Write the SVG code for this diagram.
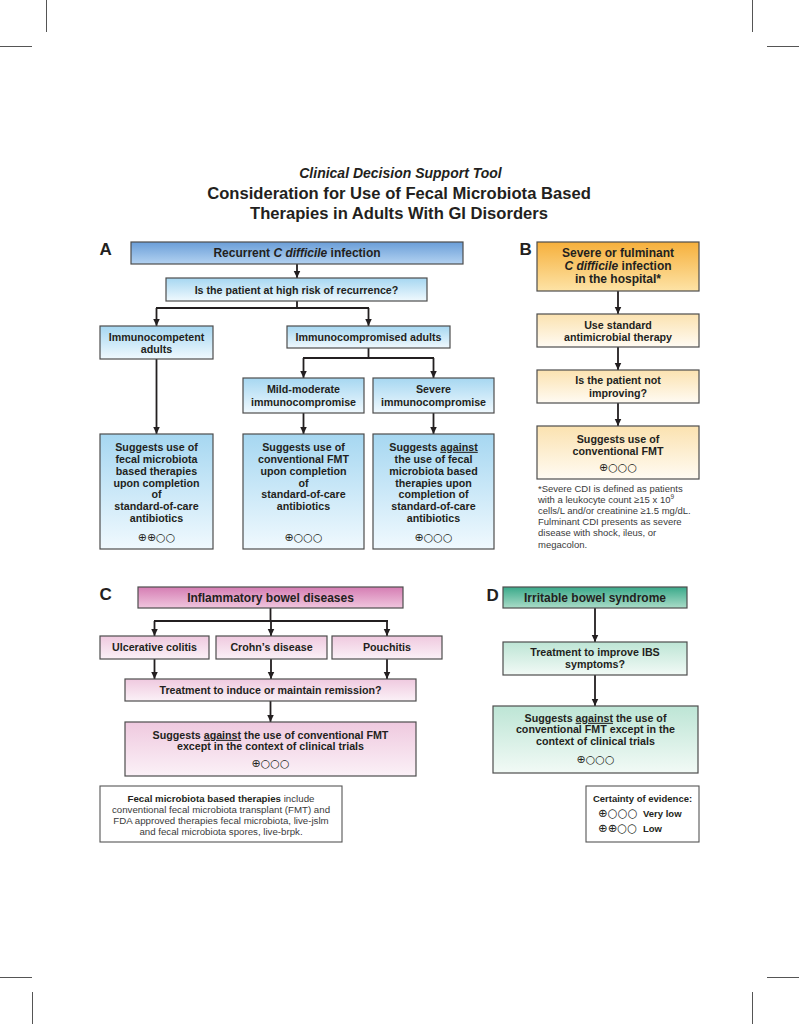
<svg xmlns="http://www.w3.org/2000/svg" width="799" height="1024" viewBox="0 0 799 1024">
<defs>
<style>
.t{font-family:"Liberation Sans",Arial,Helvetica,sans-serif;font-weight:bold;font-size:10.7px;fill:#231f20;text-anchor:middle}
.h{font-size:12px}
.lbl{font-family:"Liberation Sans",Arial,sans-serif;font-weight:bold;font-size:17px;fill:#231f20}
.sym{font-family:"DejaVu Sans",sans-serif;font-weight:normal;font-size:11px;fill:#231f20}
.note{font-family:"Liberation Sans",Arial,sans-serif;font-size:9.5px;fill:#3a3a3a}
.box{stroke:#4d4d4d;stroke-width:1.2}
.conn path{stroke:#231f20;stroke-width:1.8;fill:none}
.arr{marker-end:url(#ah)}
.crop line{stroke:#555;stroke-width:1}
</style>
<marker id="ah" markerUnits="userSpaceOnUse" markerWidth="8" markerHeight="8" refX="7.5" refY="4" orient="auto">
<path d="M0,0.5 L7.5,4 L0,7.5 z" fill="#231f20"/>
</marker>
<linearGradient id="gAh" x1="0" y1="0" x2="0" y2="1"><stop offset="0" stop-color="#6a9ed8"/><stop offset="1" stop-color="#b3d2f1"/></linearGradient>
<linearGradient id="gA" x1="0" y1="0" x2="0" y2="1"><stop offset="0" stop-color="#a6d7f1"/><stop offset="1" stop-color="#f0f9fe"/></linearGradient>
<linearGradient id="gBh" x1="0" y1="0" x2="0" y2="1"><stop offset="0" stop-color="#f6b03c"/><stop offset="1" stop-color="#fde3a6"/></linearGradient>
<linearGradient id="gB" x1="0" y1="0" x2="0" y2="1"><stop offset="0" stop-color="#fbe2b0"/><stop offset="1" stop-color="#fffbf3"/></linearGradient>
<linearGradient id="gCh" x1="0" y1="0" x2="0" y2="1"><stop offset="0" stop-color="#d57db3"/><stop offset="1" stop-color="#f0c6de"/></linearGradient>
<linearGradient id="gC" x1="0" y1="0" x2="0" y2="1"><stop offset="0" stop-color="#efc9df"/><stop offset="1" stop-color="#fbf1f7"/></linearGradient>
<linearGradient id="gDh" x1="0" y1="0" x2="0" y2="1"><stop offset="0" stop-color="#3aa98a"/><stop offset="1" stop-color="#aadcc8"/></linearGradient>
<linearGradient id="gD" x1="0" y1="0" x2="0" y2="1"><stop offset="0" stop-color="#bde5d5"/><stop offset="1" stop-color="#f2faf6"/></linearGradient>
</defs>
<rect width="799" height="1024" fill="#ffffff"/>
<g class="crop">
<line x1="46.5" y1="0" x2="46.5" y2="32"/>
<line x1="0" y1="46.5" x2="32" y2="46.5"/>
<line x1="752.5" y1="0" x2="752.5" y2="32"/>
<line x1="767" y1="46.5" x2="799" y2="46.5"/>
<line x1="0" y1="977.5" x2="32" y2="977.5"/>
<line x1="32.5" y1="992" x2="32.5" y2="1024"/>
<line x1="767" y1="977.5" x2="799" y2="977.5"/>
<line x1="752.5" y1="992" x2="752.5" y2="1024"/>
</g>
<g id="title">
<text class="t" x="400.5" y="177.5" style="font-size:14px;font-style:italic">Clinical Decision Support Tool</text>
<text class="t" x="399" y="198.5" style="font-size:16.6px">Consideration for Use of Fecal Microbiota Based</text>
<text class="t" x="399" y="218.5" style="font-size:16.6px">Therapies in Adults With GI Disorders</text>
</g>
<g id="labels">
<text class="lbl" x="99.5" y="254.5">A</text>
<text class="lbl" x="519.5" y="254.5">B</text>
<text class="lbl" x="99.5" y="599.5">C</text>
<text class="lbl" x="486.5" y="600.5">D</text>
</g>
<g class="conn" id="connectors">
<path class="arr" d="M297,264 V278"/>
<path d="M297,301 V308 M156,308 H369"/>
<path class="arr" d="M156.5,308 V326"/>
<path class="arr" d="M368.5,308 V326"/>
<path d="M368.5,348 V358 M303,358 H434"/>
<path class="arr" d="M303.5,358 V378"/>
<path class="arr" d="M433.5,358 V378"/>
<path class="arr" d="M156.5,359 V434"/>
<path class="arr" d="M303.5,413 V434"/>
<path class="arr" d="M433.5,413 V434"/>
<path class="arr" d="M618,291 V314"/>
<path class="arr" d="M618,347 V370"/>
<path class="arr" d="M618,403 V426"/>
<path d="M270.5,608 V621 M154,621 H388"/>
<path class="arr" d="M154.5,621 V636"/>
<path class="arr" d="M271,621 V636"/>
<path class="arr" d="M387,621 V636"/>
<path class="arr" d="M154.5,659 V679"/>
<path class="arr" d="M271,659 V679"/>
<path class="arr" d="M387,659 V679"/>
<path class="arr" d="M270.5,701 V722"/>
<path class="arr" d="M595,608 V642"/>
<path class="arr" d="M595,675 V706"/>
</g>
<g id="a-recurrent">
<rect class="box" x="131" y="242" width="332" height="22" fill="url(#gAh)"/>
<text class="t h" x="297" y="257.3">Recurrent <tspan font-style="italic">C difficile</tspan> infection</text>
</g>
<g id="a-risk">
<rect class="box" x="166" y="278" width="261" height="23" fill="url(#gA)"/>
<text class="t" x="296.5" y="293.6">Is the patient at high risk of recurrence?</text>
</g>
<g id="a-immunocompetent">
<rect class="box" x="100" y="326" width="113" height="33" fill="url(#gA)"/>
<text class="t" x="156.5" y="340.8">Immunocompetent</text>
<text class="t" x="156.5" y="352.5">adults</text>
</g>
<g id="a-immunocompromised">
<rect class="box" x="287" y="326" width="163" height="22" fill="url(#gA)"/>
<text class="t" x="368.5" y="341">Immunocompromised adults</text>
</g>
<g id="a-mild">
<rect class="box" x="243" y="378" width="121" height="35" fill="url(#gA)"/>
<text class="t" x="303.5" y="392.8">Mild-moderate</text>
<text class="t" x="303.5" y="405.5">immunocompromise</text>
</g>
<g id="a-severe">
<rect class="box" x="373" y="378" width="121" height="35" fill="url(#gA)"/>
<text class="t" x="433.5" y="392.8">Severe</text>
<text class="t" x="433.5" y="405.5">immunocompromise</text>
</g>
<g id="a-result1">
<rect class="box" x="100" y="434" width="113" height="115" fill="url(#gA)"/>
<text class="t" x="156.5" y="450.8">Suggests use of</text>
<text class="t" x="156.5" y="462.7">fecal microbiota</text>
<text class="t" x="156.5" y="474.6">based therapies</text>
<text class="t" x="156.5" y="486.5">upon completion</text>
<text class="t" x="156.5" y="498.4">of</text>
<text class="t" x="156.5" y="510.3">standard-of-care</text>
<text class="t" x="156.5" y="522.2">antibiotics</text>
<text class="t sym" x="156.5" y="541.3">⊕⊕○○</text>
</g>
<g id="a-result2">
<rect class="box" x="243" y="434" width="121" height="115" fill="url(#gA)"/>
<text class="t" x="303.5" y="450.8">Suggests use of</text>
<text class="t" x="303.5" y="462.7">conventional FMT</text>
<text class="t" x="303.5" y="474.6">upon completion</text>
<text class="t" x="303.5" y="486.5">of</text>
<text class="t" x="303.5" y="498.4">standard-of-care</text>
<text class="t" x="303.5" y="510.3">antibiotics</text>
<text class="t sym" x="303.5" y="541.3">⊕○○○</text>
</g>
<g id="a-result3">
<rect class="box" x="373" y="434" width="121" height="115" fill="url(#gA)"/>
<text class="t" x="433.5" y="450.8">Suggests <tspan text-decoration="underline">against</tspan></text>
<text class="t" x="433.5" y="462.7">the use of fecal</text>
<text class="t" x="433.5" y="474.6">microbiota based</text>
<text class="t" x="433.5" y="486.5">therapies upon</text>
<text class="t" x="433.5" y="498.4">completion of</text>
<text class="t" x="433.5" y="510.3">standard-of-care</text>
<text class="t" x="433.5" y="522.2">antibiotics</text>
<text class="t sym" x="433.5" y="541.3">⊕○○○</text>
</g>
<g id="b-severe">
<rect class="box" x="537" y="242" width="162" height="49" fill="url(#gBh)"/>
<text class="t h" x="618" y="257.3">Severe or fulminant</text>
<text class="t h" x="618" y="269.5"><tspan font-style="italic">C difficile</tspan> infection</text>
<text class="t h" x="618" y="282.5">in the hospital*</text>
</g>
<g id="b-standard">
<rect class="box" x="537" y="314" width="162" height="33" fill="url(#gB)"/>
<text class="t" x="618" y="328.8">Use standard</text>
<text class="t" x="618" y="340.8">antimicrobial therapy</text>
</g>
<g id="b-improving">
<rect class="box" x="537" y="370" width="162" height="33" fill="url(#gB)"/>
<text class="t" x="618" y="384">Is the patient not</text>
<text class="t" x="618" y="396.8">improving?</text>
</g>
<g id="b-result">
<rect class="box" x="537" y="426" width="162" height="53" fill="url(#gB)"/>
<text class="t" x="618" y="442.8">Suggests use of</text>
<text class="t" x="618" y="454.8">conventional FMT</text>
<text class="t sym" x="618" y="471.3">⊕○○○</text>
</g>
<g id="b-footnote">
<text class="note" x="538" y="491.5">*Severe CDI is defined as patients</text>
<text class="note" x="538" y="502.7">with a leukocyte count ≥15 x 10<tspan dy="-3.5" font-size="6.5">9</tspan></text>
<text class="note" x="538" y="513.9">cells/L and/or creatinine ≥1.5 mg/dL.</text>
<text class="note" x="538" y="525.1">Fulminant CDI presents as severe</text>
<text class="note" x="538" y="536.3">disease with shock, ileus, or</text>
<text class="note" x="538" y="547.5">megacolon.</text>
</g>
<g id="c-ibd">
<rect class="box" x="138" y="587" width="265" height="21" fill="url(#gCh)"/>
<text class="t h" x="270.5" y="602">Inflammatory bowel diseases</text>
</g>
<g id="c-uc">
<rect class="box" x="100" y="636" width="109" height="23" fill="url(#gC)"/>
<text class="t" x="154.5" y="651.3">Ulcerative colitis</text>
</g>
<g id="c-crohn">
<rect class="box" x="216" y="636" width="111" height="23" fill="url(#gC)"/>
<text class="t" x="271.5" y="651.3">Crohn’s disease</text>
</g>
<g id="c-pouchitis">
<rect class="box" x="332" y="636" width="110" height="23" fill="url(#gC)"/>
<text class="t" x="387" y="651.3">Pouchitis</text>
</g>
<g id="c-treatment">
<rect class="box" x="125" y="679" width="291" height="22" fill="url(#gC)"/>
<text class="t" x="270.5" y="693.8">Treatment to induce or maintain remission?</text>
</g>
<g id="c-result">
<rect class="box" x="125" y="722" width="291" height="54" fill="url(#gC)"/>
<text class="t" x="270.5" y="738.8">Suggests <tspan text-decoration="underline">against</tspan> the use of conventional FMT</text>
<text class="t" x="270.5" y="750">except in the context of clinical trials</text>
<text class="t sym" x="270.5" y="767.3">⊕○○○</text>
</g>
<g id="fmt-note">
<rect x="100" y="786" width="242" height="56" fill="#ffffff" stroke="#555" stroke-width="1.1"/>
<text class="note" x="221" y="802.4" text-anchor="middle" style="font-size:9.7px"><tspan font-weight="bold" fill="#231f20">Fecal microbiota based therapies</tspan> include</text>
<text class="note" x="221" y="813.2" text-anchor="middle" style="font-size:9.7px">conventional fecal microbiota transplant (FMT) and</text>
<text class="note" x="221" y="824" text-anchor="middle" style="font-size:9.7px">FDA approved therapies fecal microbiota, live-jslm</text>
<text class="note" x="221" y="834.8" text-anchor="middle" style="font-size:9.7px">and fecal microbiota spores, live-brpk.</text>
</g>
<g id="d-ibs">
<rect class="box" x="503" y="587" width="184" height="21" fill="url(#gDh)"/>
<text class="t h" x="595" y="602">Irritable bowel syndrome</text>
</g>
<g id="d-treatment">
<rect class="box" x="503" y="642" width="184" height="33" fill="url(#gD)"/>
<text class="t" x="595" y="655.8">Treatment to improve IBS</text>
<text class="t" x="595" y="667.5">symptoms?</text>
</g>
<g id="d-result">
<rect class="box" x="493" y="706" width="205" height="67" fill="url(#gD)"/>
<text class="t" x="595.5" y="721.8">Suggests <tspan text-decoration="underline">against</tspan> the use of</text>
<text class="t" x="595.5" y="733.4">conventional FMT except in the</text>
<text class="t" x="595.5" y="745">context of clinical trials</text>
<text class="t sym" x="595.5" y="763.3">⊕○○○</text>
</g>
<g id="legend">
<rect x="586" y="786" width="113" height="56" fill="#ffffff" stroke="#555" stroke-width="1.1"/>
<text class="t" x="642.5" y="801.5" style="font-size:9.5px">Certainty of evidence:</text>
<text class="t sym" x="598" y="817" style="text-anchor:start;font-size:11.5px">⊕○○○</text>
<text class="t" x="643" y="816.8" style="text-anchor:start;font-size:9.5px">Very low</text>
<text class="t sym" x="598" y="832" style="text-anchor:start;font-size:11.5px">⊕⊕○○</text>
<text class="t" x="643" y="831.8" style="text-anchor:start;font-size:9.5px">Low</text>
</g>
</svg>
